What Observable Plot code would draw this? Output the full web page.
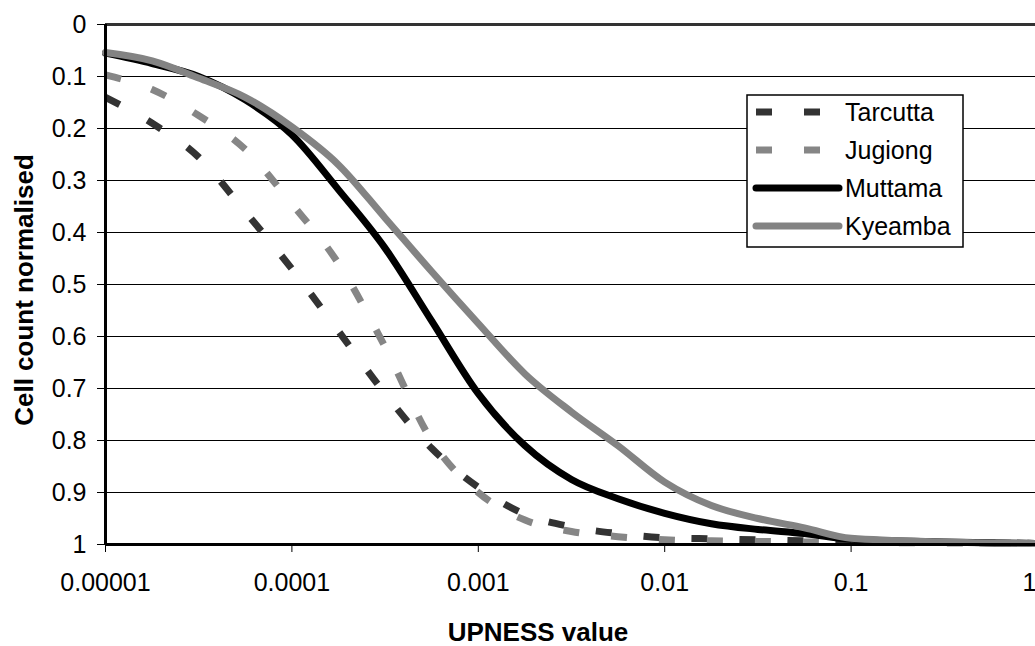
<!DOCTYPE html>
<html>
<head>
<meta charset="utf-8">
<script src="https://cdn.jsdelivr.net/npm/d3@7"></script>
<script src="https://cdn.jsdelivr.net/npm/@observablehq/plot@0.6"></script>
<style>
  html, body { margin: 0; padding: 0; background: #fff; }
  #chart { width: 1035px; height: 646px; overflow: hidden; }
</style>
</head>
<body>
<div id="chart"></div>
<script>
// ---- data ----
const seriesNames = ["Tarcutta", "Jugiong", "Muttama", "Kyeamba"];

// UPNESS values at which the curves were read
const upness = [0.00001, 0.0000178, 0.0000316, 0.0000562, 0.0001, 0.000178, 0.000316, 0.000562, 0.001, 0.00178, 0.00316, 0.00562, 0.01, 0.0178, 0.0316, 0.0562, 0.1, 0.316, 1];

const tarcuttaV = [0.14, 0.19, 0.255, 0.36, 0.47, 0.59, 0.71, 0.815, 0.89, 0.942, 0.966, 0.979, 0.987, 0.989, 0.991, 0.993, 0.994, 0.996, 0.998];
const jugiongV  = [0.097, 0.125, 0.175, 0.24, 0.345, 0.46, 0.62, 0.8, 0.9, 0.953, 0.975, 0.985, 0.991, 0.993, 0.994, 0.995, 0.996, 0.997, 0.998];
const muttamaV  = [0.055, 0.075, 0.1, 0.145, 0.212, 0.318, 0.43, 0.57, 0.71, 0.81, 0.875, 0.912, 0.94, 0.96, 0.971, 0.979, 0.99, 0.995, 0.998];
const kyeambaV  = [0.054, 0.07, 0.103, 0.14, 0.197, 0.27, 0.372, 0.475, 0.575, 0.672, 0.745, 0.81, 0.88, 0.925, 0.95, 0.968, 0.988, 0.995, 0.998];

const seriesColors = ["#333333", "#868686", "#000000", "#838383"];
const seriesDashed = [true, true, false, false];

const xTicks = [0.00001, 0.0001, 0.001, 0.01, 0.1, 1];
const xTickLabels = ["0.00001", "0.0001", "0.001", "0.01", "0.1", "1"];
const yTicks = [0, 0.1, 0.2, 0.3, 0.4, 0.5, 0.6, 0.7, 0.8, 0.9, 1];
const yTickLabels = ["0", "0.1", "0.2", "0.3", "0.4", "0.5", "0.6", "0.7", "0.8", "0.9", "1"];
const xTitle = "UPNESS value";
const yTitle = "Cell count normalised";

// ---- build table ----
const vs = [tarcuttaV, jugiongV, muttamaV, kyeambaV];
const rows = [];
seriesNames.forEach((name, i) => {
  upness.forEach((x, j) => rows.push({series: name, x, v: vs[i][j]}));
});
const xTickRows = xTicks.map((t, i) => ({t, label: xTickLabels[i], last: i === xTicks.length - 1}));
const yLabelOf = d => yTickLabels[yTicks.findIndex(t => Math.abs(t - d) < 1e-9)];

const FONT = "'Liberation Sans', Arial, Helvetica, sans-serif";

const lineMarks = seriesNames.map((name, i) =>
  Plot.line(rows.filter(d => d.series === name), {
    x: "x", y: "v",
    stroke: seriesColors[i],
    strokeWidth: 7,
    strokeDasharray: seriesDashed[i] ? "16,32" : null,
    strokeLinecap: seriesDashed[i] ? "butt" : "round",
    strokeLinejoin: "round",
    curve: "monotone-x"
  })
);

const chart = Plot.plot({
  width: 1035,
  height: 646,
  marginLeft: 105,
  marginRight: 0,
  marginTop: 24,
  marginBottom: 102,
  style: {fontFamily: FONT, fontSize: "25px", background: "#fff", color: "#000", overflow: "visible"},
  x: {type: "log", domain: [1e-5, 1], range: [105, 1037], axis: null},
  y: {domain: [0, 1], range: [24, 544], axis: null},
  marks: [
    Plot.ruleY(yTicks.slice(1, -1), {stroke: "#000", strokeWidth: 1}),
    ...lineMarks,
    Plot.ruleY([0], {stroke: "#333", strokeWidth: 3}),
    Plot.ruleX([1e-5], {stroke: "#000", strokeWidth: 3}),
    Plot.ruleY([1], {stroke: "#000", strokeWidth: 3}),
    Plot.axisY({
      ticks: yTicks, tickSize: 8, tickPadding: 11, anchor: "left",
      tickFormat: yLabelOf, label: null, fontSize: 25, stroke: "#000"
    }),
    // x tick marks (short, below the axis)
    Plot.ruleX(xTickRows, {x: "t", y1: 1, y2: 1, insetBottom: -8, stroke: "#000", strokeWidth: 1}),
    // x tick labels
    Plot.text(xTickRows.filter(d => !d.last), {
      x: "t", y: 1, text: "label", dy: 38,
      fontSize: 25, fill: "#000", textAnchor: "middle"
    }),
    Plot.text(xTickRows.filter(d => d.last), {
      x: "t", y: 1, text: "label", dy: 38, dx: -1,
      fontSize: 25, fill: "#000", textAnchor: "end"
    })
  ]
});

document.getElementById("chart").appendChild(chart);

// ---- titles and legend ----
const svg = d3.select(chart);

svg.append("text")
  .attr("x", 538).attr("y", 641)
  .attr("text-anchor", "middle")
  .attr("font-family", FONT).attr("font-weight", "bold").attr("font-size", 26)
  .attr("fill", "#000")
  .text(xTitle);

svg.append("text")
  .attr("transform", "translate(33,290) rotate(-90)")
  .attr("text-anchor", "middle")
  .attr("font-family", FONT).attr("font-weight", "bold").attr("font-size", 26)
  .attr("fill", "#000")
  .text(yTitle);

const lg = svg.append("g");
lg.append("rect")
  .attr("x", 747).attr("y", 95).attr("width", 216).attr("height", 152)
  .attr("fill", "#fff").attr("stroke", "#000").attr("stroke-width", 1.5);

const legendY = [112, 150, 188, 226];
seriesNames.forEach((name, i) => {
  const y = legendY[i];
  if (seriesDashed[i]) {
    lg.append("line")
      .attr("x1", 756).attr("x2", 836).attr("y1", y).attr("y2", y)
      .attr("stroke", seriesColors[i]).attr("stroke-width", 7)
      .attr("stroke-dasharray", "16,32");
  } else {
    lg.append("line")
      .attr("x1", 756).attr("x2", 839).attr("y1", y).attr("y2", y)
      .attr("stroke", seriesColors[i]).attr("stroke-width", 7)
      .attr("stroke-linecap", "round");
  }
  lg.append("text")
    .attr("x", 845).attr("y", y).attr("dy", "0.35em")
    .attr("text-anchor", "start")
    .attr("font-family", FONT).attr("font-size", 25).attr("fill", "#000")
    .text(name);
});
</script>
</body>
</html>
